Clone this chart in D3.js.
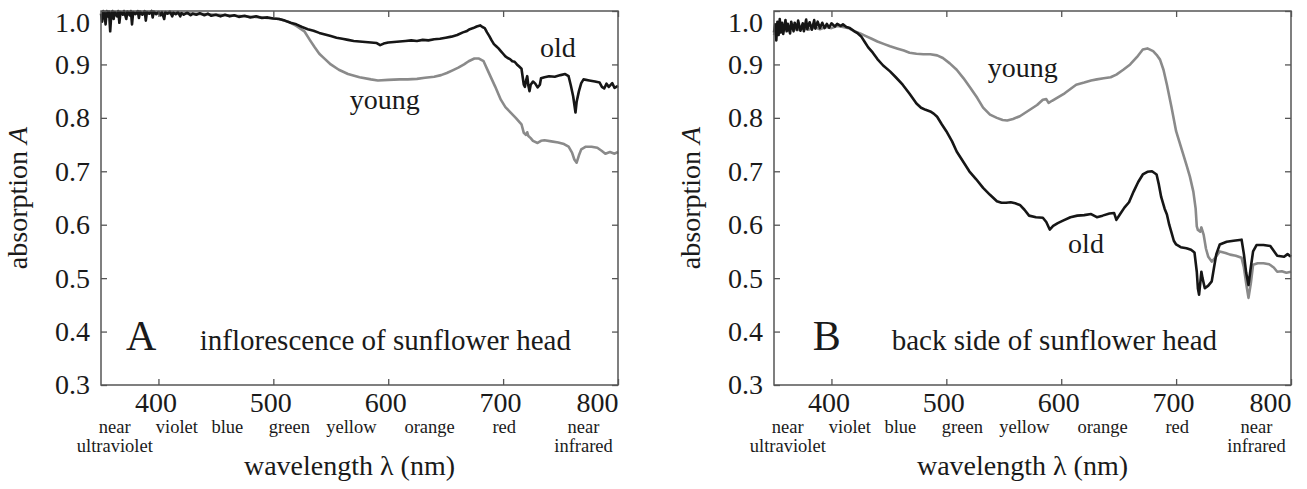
<!DOCTYPE html>
<html>
<head>
<meta charset="utf-8">
<script src="https://cdn.jsdelivr.net/npm/d3@7"></script>
<style>
  body { margin: 0; background: #fff; }
</style>
</head>
<body>
<script>
var FONT = "'Liberation Serif', 'DejaVu Serif', serif";

// tick values
var xTicks = [400, 500, 600, 700, 800];
var yTicks = [0.3, 0.4, 0.5, 0.6, 0.7, 0.8, 0.9, 1.0];

// spectral band names under the x axis, at their centre wavelength (nm)
var bandNames = [["near", "ultraviolet"], ["violet"], ["blue"], ["green"], ["yellow"], ["orange"], ["red"], ["near", "infrared"]];
var bandCentres = [362, 416, 460, 514, 568, 636, 701, 770];

// A: inflorescence, old head  [wavelength nm, absorption]
var aOld = [[350,0.995],[351,0.98],[352,1.0],[353,0.995],[354,0.975],[355,1.0],[356,0.99],[357,0.999],[358,0.962],[359,0.995],
  [360,1.0],[361,0.985],[362,0.998],[364,0.99],[365,1.0],[366,0.978],[367,0.998],[369,0.993],[370,1.0],[372,0.985],[373,0.999],
  [375,0.992],[376,1.0],[377,0.975],[378,0.998],[380,0.994],[382,1.0],[383,0.987],[384,0.999],[386,0.993],[388,1.0],[389,0.982],
  [390,0.998],[392,0.995],[394,1.0],[395,0.988],[396,0.999],[398,0.994],[400,0.998],[402,0.992],[403,0.998],[405,0.985],[406,0.998],
  [408,0.995],[410,0.999],[412,0.99],[413,0.997],[415,0.994],[417,0.998],[419,0.99],[420,0.996],[422,0.993],[425,0.997],[428,0.992],
  [430,0.995],[433,0.993],[436,0.996],[440,0.992],[443,0.995],[446,0.991],[450,0.993],[454,0.99],[458,0.993],[462,0.99],[466,0.992],
  [470,0.989],[475,0.991],[480,0.988],[485,0.99],[490,0.987],[495,0.988],[500,0.986],[505,0.985],[510,0.982],[515,0.978],[520,0.975],
  [525,0.97],[530,0.966],[535,0.963],[540,0.959],[545,0.956],[550,0.953],[555,0.95],[560,0.948],[565,0.946],[570,0.944],[575,0.943],
  [580,0.942],[585,0.941],[590,0.94],[593,0.936],[596,0.939],[600,0.941],[605,0.942],[610,0.943],[615,0.944],[620,0.945],[625,0.944],
  [630,0.946],[635,0.945],[640,0.947],[645,0.948],[650,0.95],[655,0.952],[660,0.955],[665,0.96],[668,0.962],[671,0.966],[674,0.968],
  [677,0.971],[680,0.973],[682,0.97],[684,0.968],[686,0.96],[688,0.953],[690,0.945],[692,0.938],[694,0.934],[696,0.93],[698,0.925],
  [700,0.92],[702,0.915],[704,0.912],[706,0.91],[708,0.906],[710,0.905],[712,0.9],[714,0.896],[716,0.892],[718,0.862],[719,0.858],
  [720,0.87],[721,0.878],[722,0.86],[723,0.85],[724,0.862],[726,0.868],[728,0.864],[730,0.857],[732,0.862],[733,0.874],[736,0.876],
  [740,0.878],[745,0.877],[750,0.88],[754,0.882],[757,0.878],[759,0.86],[761,0.84],[763,0.81],[764,0.83],[766,0.85],[768,0.865],
  [770,0.872],[775,0.87],[780,0.868],[784,0.866],[786,0.858],[788,0.855],[790,0.864],[792,0.858],[795,0.865],[797,0.856],[800,0.86]];

// A: inflorescence, young head
var aYoung = [[350,0.997],[370,0.997],[400,0.996],[430,0.995],[460,0.992],[490,0.988],[505,0.985],[513,0.98],[520,0.972],[527,0.962],
  [532,0.945],[536,0.932],[540,0.92],[545,0.91],[550,0.9],[557,0.89],[565,0.882],[575,0.876],[585,0.872],[591,0.87],[600,0.871],
  [610,0.872],[617,0.872],[625,0.873],[632,0.875],[640,0.877],[646,0.88],[651,0.884],[656,0.889],[661,0.894],[666,0.9],[670,0.906],
  [675,0.911],[679,0.911],[683,0.906],[687,0.887],[690,0.873],[693,0.859],[698,0.834],[702,0.82],[707,0.809],[711,0.8],[716,0.788],
  [718,0.772],[720,0.768],[721,0.773],[722,0.766],[724,0.762],[726,0.757],[730,0.753],[733,0.757],[736,0.758],[742,0.756],[748,0.754],
  [753,0.751],[757,0.746],[760,0.735],[762,0.722],[764,0.716],[766,0.73],[768,0.741],[772,0.746],[777,0.746],[782,0.744],[786,0.738],
  [789,0.733],[793,0.736],[797,0.733],[800,0.736]];

// B: back side, old head
var bOld = [[350,0.96],[351,0.975],[352,0.945],[353,0.98],[354,0.955],[355,0.985],[356,0.96],[357,0.978],[358,0.957],[360,0.983],
  [361,0.962],[362,0.976],[364,0.958],[365,0.98],[367,0.962],[368,0.978],[370,0.965],[371,0.982],[373,0.963],[375,0.977],[376,0.962],
  [378,0.984],[379,0.966],[381,0.979],[383,0.965],[385,0.983],[386,0.967],[388,0.98],[390,0.968],[392,0.978],[394,0.968],[396,0.976],
  [398,0.969],[400,0.977],[403,0.971],[405,0.976],[408,0.972],[410,0.975],[413,0.97],[416,0.968],[420,0.962],[423,0.958],[426,0.952],
  [429,0.942],[432,0.932],[436,0.922],[440,0.91],[445,0.898],[451,0.887],[456,0.876],[462,0.862],[468,0.845],[474,0.827],[478,0.819],
  [482,0.815],[486,0.812],[489,0.808],[492,0.802],[496,0.788],[500,0.775],[505,0.756],[509,0.737],[515,0.717],[520,0.7],[526,0.685],
  [532,0.669],[538,0.656],[544,0.644],[548,0.641],[552,0.641],[556,0.642],[560,0.64],[564,0.637],[568,0.628],[572,0.617],[578,0.614],
  [584,0.613],[587,0.605],[590,0.591],[593,0.598],[597,0.603],[602,0.608],[608,0.614],[614,0.617],[620,0.618],[626,0.62],[631,0.614],
  [636,0.617],[642,0.621],[646,0.622],[648,0.609],[651,0.619],[655,0.632],[659,0.642],[663,0.662],[667,0.68],[671,0.694],[675,0.699],
  [679,0.7],[683,0.694],[685,0.675],[687,0.652],[690,0.63],[692,0.619],[694,0.6],[696,0.585],[698,0.57],[700,0.563],[704,0.558],
  [709,0.556],[713,0.553],[716,0.548],[718,0.512],[719,0.48],[720,0.469],[721,0.49],[722,0.512],[723,0.5],[725,0.481],[728,0.486],
  [731,0.494],[733,0.52],[735,0.545],[738,0.563],[744,0.568],[750,0.57],[757,0.572],[759,0.545],[761,0.51],[763,0.487],[765,0.52],
  [767,0.55],[770,0.562],[776,0.562],[782,0.56],[786,0.548],[788,0.542],[794,0.54],[797,0.545],[800,0.54]];

// B: back side, young head
var bYoung = [[350,0.955],[352,0.97],[355,0.962],[358,0.972],[362,0.963],[366,0.97],[370,0.964],[375,0.968],[380,0.965],[385,0.97],
  [390,0.966],[395,0.97],[400,0.968],[405,0.972],[410,0.97],[415,0.968],[420,0.962],[425,0.958],[430,0.953],[435,0.948],[440,0.943],
  [446,0.938],[451,0.934],[457,0.93],[463,0.926],[468,0.922],[474,0.92],[480,0.919],[486,0.919],[492,0.917],[497,0.912],[503,0.902],
  [509,0.89],[515,0.874],[521,0.856],[527,0.837],[532,0.819],[538,0.806],[544,0.8],[549,0.796],[553,0.795],[558,0.798],[564,0.803],
  [569,0.81],[574,0.817],[579,0.824],[584,0.834],[587,0.835],[589,0.828],[592,0.832],[596,0.837],[603,0.846],[608,0.854],[613,0.862],
  [620,0.866],[626,0.87],[631,0.872],[637,0.874],[643,0.876],[648,0.881],[654,0.89],[660,0.9],[666,0.914],[671,0.928],[675,0.93],
  [680,0.925],[683,0.918],[686,0.909],[689,0.89],[692,0.862],[696,0.82],[700,0.775],[705,0.74],[709,0.712],[712,0.69],[715,0.662],
  [717,0.63],[718,0.597],[719,0.59],[721,0.587],[722,0.595],[724,0.581],[726,0.555],[728,0.54],[731,0.531],[734,0.538],[738,0.55],
  [743,0.547],[747,0.544],[752,0.542],[757,0.538],[759,0.52],[761,0.49],[763,0.463],[765,0.49],[767,0.525],[771,0.528],[776,0.528],
  [781,0.526],[785,0.52],[788,0.512],[792,0.513],[796,0.51],[800,0.512]];

var svg = d3.select("body").append("svg")
    .attr("width", 1307)
    .attr("height", 489)
    .attr("font-family", FONT);

var plotTop = 11, plotBottom = 385, plotWidth = 517;

function addText(x, y, size, str) {
    return svg.append("text")
        .attr("x", x).attr("y", y)
        .attr("font-family", FONT)
        .attr("font-size", size)
        .attr("fill", "#1a1a1a")
        .text(str);
}

function drawPanel(p) {
    var x = d3.scaleLinear().domain([350, 800]).range([p.left, p.left + plotWidth]);
    var y = d3.scaleLinear().domain([0.3, 1.0]).range([plotBottom, plotTop]);

    var line = d3.line()
        .x(function(d) { return x(d[0]); })
        .y(function(d) { return y(d[1]); });

    // curves: young (grey) first, old (black) on top
    svg.append("path").datum(p.young)
        .attr("fill", "none").attr("stroke", "#8a8a8a").attr("stroke-width", 2.6)
        .attr("stroke-linejoin", "round").attr("d", line);
    svg.append("path").datum(p.old)
        .attr("fill", "none").attr("stroke", "#161616").attr("stroke-width", 2.6)
        .attr("stroke-linejoin", "round").attr("d", line);

    // axes with inward ticks
    var gx = svg.append("g").attr("transform", "translate(0," + plotBottom + ")")
        .call(d3.axisBottom(x).tickValues(xTicks).tickSizeInner(-6).tickSizeOuter(0).tickPadding(7).tickFormat(d3.format("d")));
    svg.append("g").attr("transform", "translate(0," + plotTop + ")")
        .call(d3.axisTop(x).tickValues(xTicks).tickSizeInner(-6).tickSizeOuter(0).tickFormat(""));
    var gy = svg.append("g").attr("transform", "translate(" + p.left + ",0)")
        .call(d3.axisLeft(y).tickValues(yTicks).tickSizeInner(-6).tickSizeOuter(0).tickPadding(11).tickFormat(d3.format(".1f")));
    svg.append("g").attr("transform", "translate(" + (p.left + plotWidth) + ",0)")
        .call(d3.axisRight(y).tickValues(yTicks).tickSizeInner(-6).tickSizeOuter(0).tickFormat(""));

    svg.selectAll("g").attr("font-family", FONT);
    svg.selectAll(".domain").remove();
    svg.selectAll(".tick line").attr("stroke", "#555").attr("stroke-width", 1.3);
    gx.selectAll("text").attr("font-size", 28).attr("fill", "#1a1a1a").attr("dx", -3);
    gy.selectAll("text").attr("font-size", 28).attr("fill", "#1a1a1a");
    // 800 label kept inside the frame, 1.0 label pushed down a little
    gx.selectAll(".tick").filter(function(d) { return d === 800; }).select("text")
        .attr("text-anchor", "end").attr("dx", 0);
    gy.selectAll(".tick").filter(function(d) { return d === 1.0; }).select("text")
        .attr("dy", "0.72em");

    // frame
    svg.append("rect")
        .attr("x", p.left).attr("y", plotTop)
        .attr("width", plotWidth).attr("height", plotBottom - plotTop)
        .attr("fill", "none").attr("stroke", "#555").attr("stroke-width", 1.5);

    // band names
    bandNames.forEach(function(lines, i) {
        var t = addText(x(bandCentres[i]), 433, 18.5, null).attr("text-anchor", "middle");
        lines.forEach(function(s, j) {
            t.append("tspan").attr("x", x(bandCentres[i])).attr("dy", j === 0 ? 0 : 19).text(s);
        });
    });

    // axis titles
    addText(p.left + plotWidth / 2 - 10, 475, 28, "wavelength \u03bb (nm)")
        .attr("text-anchor", "middle");

    var yt = addText(0, 0, 28, null)
        .attr("transform", "translate(" + (p.left - 74) + "," + ((plotTop + plotBottom) / 2) + ") rotate(-90)")
        .attr("text-anchor", "middle");
    yt.append("tspan").text("absorption ");
    yt.append("tspan").attr("font-style", "italic").text("A");

    // curve names
    p.names.forEach(function(n) {
        addText(x(n.nm), y(n.a), 28, n.text);
    });

    // panel letter and caption
    addText(x(p.letterNm), y(0.3656), 42, p.letter).attr("text-anchor", "middle");
    addText(x(p.captionNm), y(0.3656), 29, p.caption);
}

drawPanel({
    left: 101, old: aOld, young: aYoung,
    letter: "A", letterNm: 385, caption: "inflorescence of sunflower head", captionNm: 436,
    names: [{ text: "old", nm: 732, a: 0.913 }, { text: "young", nm: 566.5, a: 0.816 }]
});

drawPanel({
    left: 774, old: bOld, young: bYoung,
    letter: "B", letterNm: 396, caption: "back side of sunflower head", captionNm: 452.5,
    names: [{ text: "young", nm: 536, a: 0.876 }, { text: "old", nm: 606, a: 0.5475 }]
});
</script>
</body>
</html>
